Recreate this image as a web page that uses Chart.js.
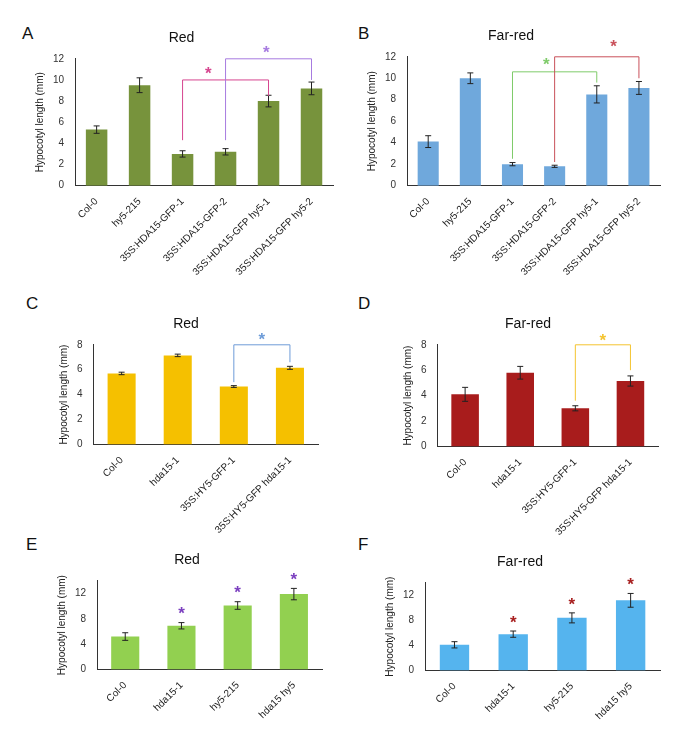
<!DOCTYPE html>
<html><head><meta charset="utf-8">
<script src="https://cdn.jsdelivr.net/npm/chart.js"></script>
<style>
body{margin:0;background:#fff;width:699px;height:755px;position:relative;overflow:hidden;font-family:Arial,"Liberation Sans",sans-serif}
.c{position:absolute}
.L{position:absolute;font-size:17px;color:#111}
</style></head><body>
<div class="L" style="left:22px;top:24px">A</div>
<div class="L" style="left:358px;top:24px">B</div>
<div class="L" style="left:26px;top:294px">C</div>
<div class="L" style="left:358px;top:294px">D</div>
<div class="L" style="left:26px;top:535px">E</div>
<div class="L" style="left:358px;top:535px">F</div>
<div class="c" style="left:30px;top:30px;width:315px;height:250px"><canvas id="a"></canvas></div>
<div class="c" style="left:362px;top:28px;width:310px;height:252px"><canvas id="b"></canvas></div>
<div class="c" style="left:40px;top:302px;width:290px;height:236px"><canvas id="cc"></canvas></div>
<div class="c" style="left:382px;top:304px;width:290px;height:236px"><canvas id="d"></canvas></div>
<div class="c" style="left:40px;top:538px;width:290px;height:185px"><canvas id="e"></canvas></div>
<div class="c" style="left:370px;top:540px;width:300px;height:184px"><canvas id="f"></canvas></div>
<script>
const catsA=["Col-0","hy5-215","35S:HDA15-GFP-1","35S:HDA15-GFP-2","35S:HDA15-GFP hy5-1","35S:HDA15-GFP hy5-2"];
const valsA=[5.3,9.5,3.0,3.2,8.0,9.2], errA=[0.35,0.7,0.3,0.3,0.55,0.6];
const valsB=[4.1,10.0,2.0,1.8,8.5,9.1], errB=[0.55,0.5,0.15,0.1,0.8,0.6];
const catsC=["Col-0","hda15-1","35S:HY5-GFP-1","35S:HY5-GFP hda15-1"];
const valsC=[5.7,7.15,4.65,6.15], errC=[0.1,0.1,0.07,0.12];
const valsD=[4.1,5.8,3.0,5.15], errD=[0.55,0.5,0.2,0.4];
const catsE=["Col-0","hda15-1","hy5-215","hda15 hy5"];
const valsE=[5.2,6.9,10.1,11.9], errE=[0.6,0.5,0.6,0.9];
const valsF=[4.1,5.8,8.4,11.2], errF=[0.5,0.5,0.8,1.1];
// brackets: [from, to, fromBottom, toBottom, top, color, starX, starY]
const brA=[[2,4,4.3,8.5,10,'#D6458F',2.6,10.9],[3,5,4.3,10.0,12,'#A77BE0',3.95,12.9]];
const brB=[[2,4,2.5,9.6,10.6,'#7FCB6A',2.8,11.6],[3,5,2.2,10.0,12,'#C9505A',4.4,13.3]];
const brC=[[2,3,5.0,6.6,8,'#6E9CD8',2.5,8.7]];
const brD=[[2,3,3.6,6.0,8,'#F4C430',2.5,8.6]];
const starsE=[1,2,3], starsF=[1,2,3];

const marks={id:'marks',afterDatasetsDraw(ch,a,o){
 const c=ch.ctx,x=ch.scales.x,y=ch.scales.y,ds=ch.data.datasets[0];
 c.save();c.strokeStyle='#222';c.lineWidth=1;
 ds.data.forEach((v,i)=>{const e=o.err[i],px=x.getPixelForValue(i);
  const t=y.getPixelForValue(v+e),b=y.getPixelForValue(v-e);
  c.beginPath();c.moveTo(px,t);c.lineTo(px,b);c.moveTo(px-3,t);c.lineTo(px+3,t);c.moveTo(px-3,b);c.lineTo(px+3,b);c.stroke();});
 (o.br||[]).forEach(r=>{c.strokeStyle=r[5];c.lineWidth=1;
  const x1=x.getPixelForValue(r[0]),x2=x.getPixelForValue(r[1]),yt=y.getPixelForValue(r[4]);
  c.beginPath();c.moveTo(x1,y.getPixelForValue(r[2]));c.lineTo(x1,yt);c.lineTo(x2,yt);c.lineTo(x2,y.getPixelForValue(r[3]));c.stroke();
  c.fillStyle=r[5];c.font='bold 17px Arial';c.textAlign='center';c.textBaseline='middle';
  c.fillText('*',x.getPixelForValue(r[6]),y.getPixelForValue(r[7])+4);});
 (o.stars||[]).forEach(i=>{const v=ds.data[i]+o.err[i];
  c.fillStyle=o.starColor;c.font='bold 17px Arial';c.textAlign='center';c.textBaseline='middle';
  c.fillText('*',x.getPixelForValue(i),y.getPixelForValue(v)-8);});
 c.restore();}};

function mk(id,cats,vals,err,color,title,max,br,stars,starColor,pad){
 new Chart(document.getElementById(id),{type:'bar',
  data:{labels:cats,datasets:[{data:vals,backgroundColor:color,categoryPercentage:1,barPercentage:0.5}]},
  options:{responsive:true,maintainAspectRatio:false,animation:false,
   layout:{padding:pad},
   plugins:{legend:{display:false},tooltip:{enabled:false},
    title:{display:true,text:title,color:'#111',font:{size:14,family:'Arial',weight:'normal'},padding:{top:0,bottom:12}},
    marks:{err:err,br:br,stars:stars,starColor:starColor}},
   scales:{x:{grid:{display:false,drawTicks:true},border:{color:'#333'},
     ticks:{color:'#222',font:{size:10,family:'Arial'},maxRotation:45,minRotation:45,padding:2}},
    y:{min:0,max:max,grid:{display:false},border:{color:'#333'},
     ticks:{stepSize:2,color:'#333',font:{size:10,family:'Arial'}},
     title:{display:true,text:'Hypocotyl length (mm)',color:'#222',font:{size:10,family:'Arial'}}}}},
  plugins:[marks]});}
mk('a',catsA,valsA,errA,'#77933C','Red',12,brA,[],'',{top:0,right:12});
mk('b',catsA,valsB,errB,'#6FA8DC','Far-red',12,brB,[],'',{top:0,right:12});
mk('cc',catsC,valsC,errC,'#F5C000','Red',8,brC,[],'',{top:14,right:12,left:14});
mk('d',catsC,valsD,errD,'#A81C1C','Far-red',8,brD,[],'',{top:12,right:14,left:16});
mk('e',catsE,valsE,errE,'#92D050','Red',14,[],starsE,'#7B3FBF',{top:14,right:8,left:12});
mk('f',catsE,valsF,errF,'#55B4EE','Far-red',14,[],starsF,'#A82020',{top:14,right:10,left:10});
</script></body></html>
